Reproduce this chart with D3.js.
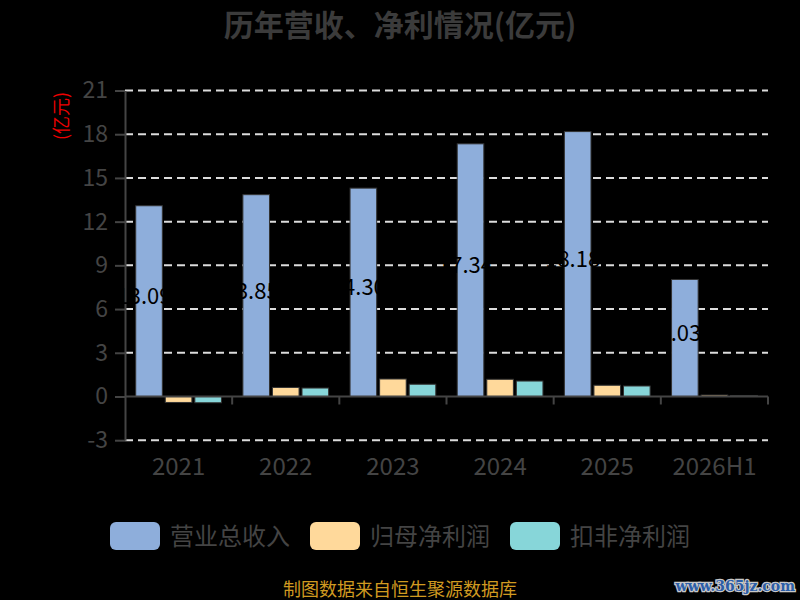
<!DOCTYPE html>
<html>
<head>
<meta charset="utf-8">
<script src="https://cdn.jsdelivr.net/npm/d3@7"></script>
<style>
  html, body { margin: 0; padding: 0; background: #000; }
  svg { display: block; font-family: "Noto Sans CJK SC", "Noto Sans", sans-serif; }
</style>
</head>
<body>
<div id="viz"></div>
<script>
const width = 800;
const height = 600;
const margin = {top: 90.5, right: 32, bottom: 159.8, left: 125};

// chart data
const categories = ['2021', '2022', '2023', '2024', '2025', '2026H1'];
const revenue = [13.09, 13.85, 14.30, 17.34, 18.18, 8.03];
const netProfit = [-0.41, 0.62, 1.20, 1.18, 0.77, 0.10];
const deductedProfit = [-0.43, 0.58, 0.84, 1.06, 0.72, 0.07];
const yTicks = [-3, 0, 3, 6, 9, 12, 15, 18, 21];

const series = [
  { key: 'revenue', label: '营业总收入', color: '#8eaedb', values: revenue },
  { key: 'netProfit', label: '归母净利润', color: '#ffd99b', values: netProfit },
  { key: 'deductedProfit', label: '扣非净利润', color: '#87d6d9', values: deductedProfit },
];

const svg = d3.select('#viz')
  .append('svg')
    .attr('width', width)
    .attr('height', height)
    .attr('viewBox', [0, 0, width, height]);

svg.append('rect')
    .attr('width', width)
    .attr('height', height)
    .attr('fill', '#000');

// Scales
const scaleX = d3.scaleBand()
  .domain(categories)
  .range([margin.left, width - margin.right])
  .padding(0);

const bw = scaleX.bandwidth();
const scaleX1 = d3.scaleBand()
  .domain(series.map(s => s.key))
  .range([bw * 0.1, bw * 0.9])
  .paddingInner(0.1);

const scaleY = d3.scaleLinear()
  .domain([-3, 21])
  .range([height - margin.bottom, margin.top]);

// Title
svg.append('text')
    .attr('x', width / 2)
    .attr('y', 36)
    .attr('text-anchor', 'middle')
    .attr('fill', '#3b3b3b')
    .style('font-size', '30px')
    .style('font-weight', 'bold')
    .text('历年营收、净利情况(亿元)');

// Grid lines (dashed), except the zero line
svg.append('g')
    .attr('class', 'grid')
  .selectAll('line')
  .data(yTicks.filter(t => t !== 0))
  .join('line')
    .attr('x1', margin.left)
    .attr('x2', width - margin.right)
    .attr('y1', d => scaleY(d))
    .attr('y2', d => scaleY(d))
    .attr('stroke', '#dcdcdc')
    .attr('stroke-width', 2)
    .attr('stroke-dasharray', '8,5');

// Y axis
const axisLeft = d3.axisLeft(scaleY)
  .tickValues(yTicks)
  .tickFormat(d => String(d))
  .tickSize(10)
  .tickPadding(7)
  .tickSizeOuter(0);
const yAxis = svg.append('g')
    .attr('transform', `translate(${margin.left},0)`)
  .call(axisLeft);
yAxis.select('.domain').attr('stroke', '#444').attr('stroke-width', 2);
yAxis.selectAll('.tick line').attr('stroke', '#444').attr('stroke-width', 2);
yAxis.selectAll('.tick text')
    .attr('fill', '#444')
    .style('font-size', '23px')
    .style('font-family', '"Noto Sans CJK SC", sans-serif');

// Y axis label
svg.append('text')
    .attr('transform', `translate(68, 116) rotate(-90)`)
    .attr('text-anchor', 'middle')
    .attr('fill', '#ee0000')
    .style('font-size', '18px')
    .text('(亿元)');

// Bars
const groups = svg.append('g')
    .attr('class', 'bars')
  .selectAll('g')
  .data(categories)
  .join('g')
    .attr('transform', d => `translate(${scaleX(d)},0)`);

groups.selectAll('rect')
  .data((d, i) => series.map(s => ({ key: s.key, color: s.color, value: s.values[i] })))
  .join('rect')
    .attr('x', d => scaleX1(d.key))
    .attr('width', scaleX1.bandwidth())
    .attr('y', d => scaleY(Math.max(0, d.value)))
    .attr('height', d => Math.abs(scaleY(d.value) - scaleY(0)))
    .attr('fill', d => d.color)
    .attr('stroke', '#333')
    .attr('stroke-width', 1);

// X axis
svg.append('line')
    .attr('x1', margin.left)
    .attr('x2', width - margin.right)
    .attr('y1', scaleY(0))
    .attr('y2', scaleY(0))
    .attr('stroke', '#444')
    .attr('stroke-width', 2);

svg.append('g')
  .selectAll('line')
  .data(categories.slice(1).concat(['end']))
  .join('line')
    .attr('x1', d => d === 'end' ? width - margin.right : scaleX(d))
    .attr('x2', d => d === 'end' ? width - margin.right : scaleX(d))
    .attr('y1', scaleY(0))
    .attr('y2', scaleY(0) + 8)
    .attr('stroke', '#444')
    .attr('stroke-width', 2);

svg.append('g')
  .selectAll('text')
  .data(categories)
  .join('text')
    .attr('x', d => scaleX(d) + bw / 2)
    .attr('y', 475)
    .attr('text-anchor', 'middle')
    .attr('fill', '#444')
    .style('font-size', '24px')
    .text(d => d);

// Value labels on revenue bars (black text, only visible over the bar)
svg.append('g')
  .selectAll('text')
  .data(categories)
  .join('text')
    .attr('x', (d, i) => scaleX(d) + scaleX1('revenue') + scaleX1.bandwidth() / 2 - 5)
    .attr('y', (d, i) => (scaleY(revenue[i]) + scaleY(0)) / 2 + 3)
    .attr('text-anchor', 'middle')
    .attr('fill', '#000')
    .style('font-size', '22px')
    .text((d, i) => revenue[i].toFixed(2));

// Legend
const legend = svg.append('g')
  .selectAll('g')
  .data(series)
  .join('g')
    .attr('transform', (d, i) => `translate(${110 + i * 200}, 522)`);
legend.append('rect')
    .attr('width', 50)
    .attr('height', 28)
    .attr('rx', 6)
    .attr('fill', d => d.color);
legend.append('text')
    .attr('x', 60)
    .attr('y', 14)
    .attr('dy', '0.36em')
    .attr('fill', '#444')
    .style('font-size', '24px')
    .text(d => d.label);

// Footer
svg.append('text')
    .attr('x', 400)
    .attr('y', 596)
    .attr('text-anchor', 'middle')
    .attr('fill', '#d09a20')
    .style('font-size', '18px')
    .text('制图数据来自恒生聚源数据库');

svg.append('text')
    .attr('x', 795)
    .attr('y', 591)
    .attr('text-anchor', 'end')
    .attr('fill', '#2c5ea8')
    .attr('stroke', '#c8c8c8')
    .attr('stroke-width', 2.5)
    .style('paint-order', 'stroke')
    .style('font-family', '"DejaVu Serif", serif')
    .style('font-weight', 'bold')
    .style('font-size', '14px')
    .text('www.365jz.com');
</script>
</body>
</html>
